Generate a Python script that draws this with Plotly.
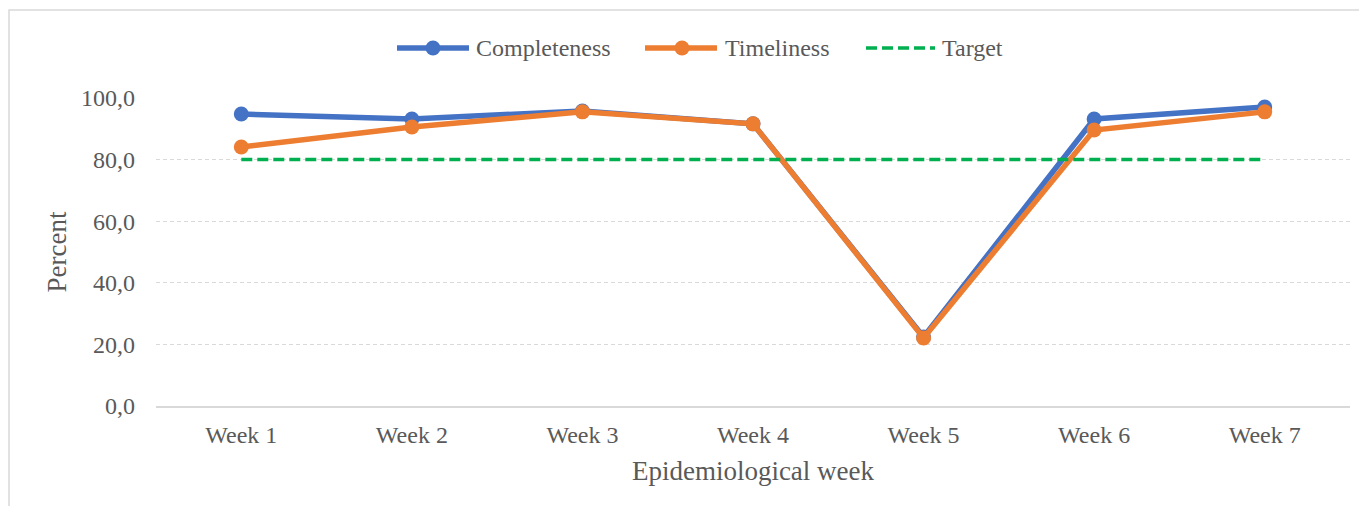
import plotly.graph_objects as go

weeks = ["Week 1", "Week 2", "Week 3", "Week 4", "Week 5", "Week 6", "Week 7"]
completeness = [94.8, 93.2, 95.8, 91.6, 22.4, 93.2, 97.1]
timeliness = [84.1, 90.6, 95.5, 91.6, 22.1, 89.6, 95.5]
target = [80, 80, 80, 80, 80, 80, 80]

BLUE = "#4472c4"
ORANGE = "#ed7d31"
GREEN = "#00b050"
FONT = "Liberation Serif"
TXT = "#595959"

fig = go.Figure()
fig.add_trace(go.Scatter(x=weeks, y=completeness, mode="lines+markers", name="Completeness",
                         line=dict(color=BLUE, width=5.5), marker=dict(size=15, color=BLUE),
                         cliponaxis=False))
fig.add_trace(go.Scatter(x=weeks, y=timeliness, mode="lines+markers", name="Timeliness",
                         line=dict(color=ORANGE, width=5.5), marker=dict(size=15, color=ORANGE),
                         cliponaxis=False))
fig.add_trace(go.Scatter(x=weeks, y=target, mode="lines", name="Target",
                         line=dict(color=GREEN, width=3.5, dash="11px,5px"), cliponaxis=False))

OFF = 8  # page body margin
W, H = 1367 - 2 * OFF, 514 - 2 * OFF
L, T = 156 - OFF, 98 - OFF
pw, ph = 1194, 308
R = W - L - pw
B = H - T - ph

def px(x):
    return (x - OFF - L) / pw

def py(y):
    return (T + ph - (y - OFF)) / ph

shapes = []
annotations = []
shapes.append(dict(type="rect", xref="paper", yref="paper", x0=px(9), x1=px(1390), y0=py(10), y1=py(540),
                   line=dict(color="#d9d9d9", width=1.5), fillcolor="rgba(0,0,0,0)", layer="below"))

leg_y = 48
items = [
    ("Completeness", BLUE, 397, 469, 433, 474, "solid", 5.5),
    ("Timeliness", ORANGE, 645, 717, 682, 723, "solid", 5.5),
    ("Target", GREEN, 866, 935, None, 940, "11px,5px", 3.5),
]
for name, col, x0, x1, xm, xt, dash, w in items:
    shapes.append(dict(type="line", xref="paper", yref="paper", x0=px(x0), x1=px(x1), y0=py(leg_y), y1=py(leg_y),
                       line=dict(color=col, width=w, dash=dash)))
    if xm is not None:
        shapes.append(dict(type="circle", xref="paper", yref="paper", x0=px(xm - 7.5), x1=px(xm + 7.5),
                           y0=py(leg_y + 7.5), y1=py(leg_y - 7.5), fillcolor=col, line=dict(color=col, width=0)))
    annotations.append(dict(text=name, xref="paper", yref="paper", x=px(xt), y=py(leg_y), xanchor="left",
                            yanchor="middle", showarrow=False, font=dict(family=FONT, size=24, color=TXT)))

fig.update_layout(
    width=W, height=H,
    margin=dict(l=L, r=R, t=T, b=B),
    paper_bgcolor="white", plot_bgcolor="white",
    showlegend=False,
    separators=",.",
    font=dict(family=FONT, color=TXT, size=24),
    shapes=shapes, annotations=annotations,
    xaxis=dict(range=[-0.5, 6.5], showgrid=False, showline=True, linecolor="#d9d9d9", linewidth=1.5, ticks="",
               ticklabelstandoff=6,
               tickfont=dict(family=FONT, size=24, color=TXT),
               title=dict(text="Epidemiological week", font=dict(family=FONT, size=27, color=TXT), standoff=15)),
    yaxis=dict(range=[0, 100], tickvals=[0, 20, 40, 60, 80, 100], tickformat=".1f",
               showgrid=True, gridcolor="#d9d9d9", griddash="4px,3px", gridwidth=1,
               zeroline=False, showline=False, ticks="", ticklabelstandoff=20,
               tickfont=dict(family=FONT, size=24, color=TXT),
               title=dict(text="Percent", font=dict(family=FONT, size=27, color=TXT), standoff=6)),
)

fig.write_html("out.html")
